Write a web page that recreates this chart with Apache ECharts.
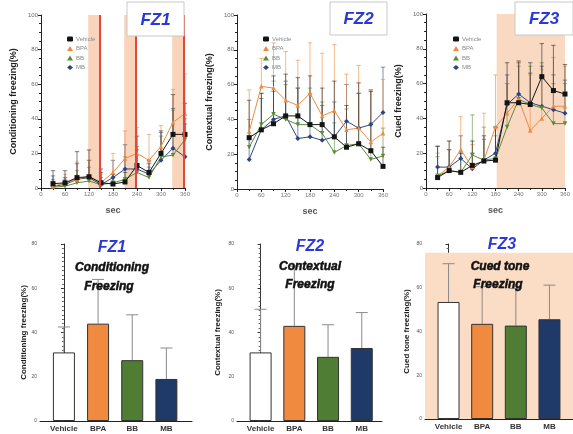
<!DOCTYPE html>
<html><head><meta charset="utf-8">
<script src="https://cdn.jsdelivr.net/npm/echarts@6/dist/echarts.min.js"></script>
<style>html,body{margin:0;padding:0;background:#fff}#c{width:573px;height:434px}</style>
</head><body><div id="c"></div>
<script>
// ---- data ----
const timeSec = [30,60,90,120,150,180,210,240,270,300,330,360];
const groups = ['Vehicle','BPA','BB','MB'];

const fz1Vehicle = [2.5,3,6,6.5,3,2.3,3.5,13,9,20,31,31];
const fz1VehicleErr = [7.5,7,15,15.5,8,5.7,5.5,17,7,13,23,18];
const fz1BPA = [1,3,5,7,3,9,17,20,16,24,38,43];
const fz1BPAErr = [3,5,10,9,5,11,16,15,15,12,19,23];
const fz1BB = [0.5,1,3,4,2,3,5,9,6,18,19,28];
const fz1BBErr = [4.5,4,7,8,4,5,13,15,6,12,26,12];
const fz1MB = [1,2,5,6,2,6,11,11,8,16,23,18];
const fz1MBErr = [6,4,9,10,7,10,14,11,6,16,23,19];

const fz2Vehicle = [29.5,34,37.5,42,42,37,37,30,24,26,22,13];
const fz2VehicleErr = [21.5,21,27.5,24,22,28,21,32,24,35,34,11];
const fz2BPA = [33,59,58,51,48,55,42,45,34,35,27,32];
const fz2BPAErr = [24,16,26,28,26,29,36,38,32,36,30,31];
const fz2BB = [24,37,43,40,37,37,32,21,25,26,17,19];
const fz2BBErr = [16,18,19,20,21,21,18,17,21,29,21,16];
const fz2MB = [17,34,40,42,29,30,28,30,39,35,37,44];
const fz2MBErr = [13,18,16,20,29,25,20,20,21,20,20,26];

const fz3Vehicle = [6,10,9,13,15.5,16,49,49,48,64,56,54];
const fz3VehicleErr = [18,17,11,14,14.5,19,23,24,24,19,26,17];
const fz3BPA = [7,12,22,12,16,35,43,51,33,40,47,47];
const fz3BPAErr = [13,15,19,13,27,30,17,21,32,28,28,23];
const fz3BB = [7,10,9,19,16,17,35,51,48,46,37,37];
const fz3BBErr = [11,12,11,23,19,13,25,19,22,26,23,23];
const fz3MB = [12,12,17,11,16,20,48,54,49,47,45,43];
const fz3MBErr = [12,10,13,9,12,15,17,18,17,23,20,19];

// shock / tone periods (sec)
const fz1Bands = [[118,148],[208,238],[328,360]];
const fz1Shocks = [147,236,358];
const fz3Band = [183,360];

const condMean = [31,44,27.5,19];
const condErr = [11.5,20,20.5,14];
const ctxMean = [31,43,29,33];
const ctxErr = [19.5,27,14.5,16];
const cuedMean = [53.5,43.5,42.7,45.6];
const cuedErr = [17.5,17,17,15.6];
const cuedBgTop = 76;

// ---- styles ----
const colors = {Vehicle:'#141414', BPA:'#ef8a3e', BB:'#5a8c3a', MB:'#2d4683'};
const barColors = ['#ffffff','#ef8a3f','#4e7d33','#1f3a68'];
const symbols = {Vehicle:['rect',5,0], BPA:['triangle',4.5,0], BB:['triangle',4.5,180], MB:['diamond',5,0]};
const FONT = 'Liberation Sans, Arial, sans-serif';

const chart = echarts.init(document.getElementById('c'), null, {renderer:'canvas'});

const topGrids = [
  {left:41, top:15, width:144, height:173},
  {left:237, top:15, width:146, height:174},
  {left:426, top:14, width:144, height:174}
];
const botGrids = [
  {left:40, top:244, width:152, height:177},
  {left:237, top:244, width:145, height:177},
  {left:425, top:244, width:148, height:175}
];
const botXMin = -0.7;
const botXMax = [3.75, 3.6, 3.7];

const topNames = ['Conditioning freezing(%)','Contextual freezing(%)','Cued freezing(%)'];
const botNames = ['Conditioning freezing(%)','Contextual freezing(%)','Cued tone freezing(%)'];
const botNameGap = [7, 15, 14];

const grid = [], xAxis = [], yAxis = [], series = [];

topGrids.forEach((g,i)=>{
  grid.push(Object.assign({containLabel:false}, g));
  xAxis.push({type:'value', gridIndex:i, min:0, max:360, interval:60,
    axisLine:{show:true, lineStyle:{color:'#222', width:1}},
    axisTick:{show:true, length:3, lineStyle:{color:'#222'}},
    minorTick:{show:true, splitNumber:2, length:2, lineStyle:{color:'#222'}},
    splitLine:{show:false},
    axisLabel:{fontSize:6, color:'#777', margin:3, fontFamily:FONT},
    name:'sec', nameLocation:'middle', nameGap:18,
    nameTextStyle:{fontSize:9, color:'#555', fontWeight:'bold', fontFamily:FONT}});
  yAxis.push({type:'value', gridIndex:i, min:0, max:100, interval:20,
    axisLine:{show:true, lineStyle:{color:'#222', width:1}},
    axisTick:{show:true, length:3, lineStyle:{color:'#222'}},
    minorTick:{show:true, splitNumber:4, length:2, lineStyle:{color:'#222'}},
    splitLine:{show:false},
    axisLabel:{fontSize:6, color:'#666', margin:3, fontFamily:FONT},
    name:topNames[i], nameLocation:'middle', nameGap:23,
    nameTextStyle:{fontSize:9, color:'#222', fontWeight:'bold', fontFamily:FONT}});
});
botGrids.forEach((g,i)=>{
  grid.push(Object.assign({containLabel:false}, g));
  xAxis.push({type:'value', gridIndex:3+i, min:botXMin, max:botXMax[i],
    axisLine:{show:true, lineStyle:{color:'#222', width:1}},
    axisTick:{show:false}, splitLine:{show:false},
    axisLabel:{customValues:[0,1,2,3], formatter:v=>groups[Math.round(v)], fontSize:8, fontWeight:'bold', color:'#333', margin:4, fontFamily:FONT}});
  yAxis.push({type:'value', gridIndex:3+i, min:0, max:80, interval:20,
    axisLine:{show:true, lineStyle:{color:'#333', width:1}},
    axisTick:{show:true, length:3, lineStyle:{color:'#333'}},
    minorTick:{show:true, splitNumber:10, length:2, lineStyle:{color:'#666'}},
    splitLine:{show:false},
    axisLabel:{fontSize:5, color:'#555', margin:3, fontFamily:FONT},
    name:botNames[i], nameLocation:'middle', nameGap:botNameGap[i],
    nameTextStyle:{fontSize:8, color:'#222', fontWeight:'bold', fontFamily:FONT}});
});

function errRenderer(color, cap, width){
  return function(params, api){
    const x = api.value(0), y = api.value(1), e = api.value(2);
    const p0 = api.coord([x,y]), p1 = api.coord([x,y+e]);
    return {type:'group', children:[
      {type:'line', shape:{x1:p0[0], y1:p0[1], x2:p1[0], y2:p1[1]}, style:{stroke:color, lineWidth:width}},
      {type:'line', shape:{x1:p1[0]-cap, y1:p1[1], x2:p1[0]+cap, y2:p1[1]}, style:{stroke:color, lineWidth:width}}
    ]};
  };
}

const topData = [
  {Vehicle:[fz1Vehicle,fz1VehicleErr], BPA:[fz1BPA,fz1BPAErr], BB:[fz1BB,fz1BBErr], MB:[fz1MB,fz1MBErr]},
  {Vehicle:[fz2Vehicle,fz2VehicleErr], BPA:[fz2BPA,fz2BPAErr], BB:[fz2BB,fz2BBErr], MB:[fz2MB,fz2MBErr]},
  {Vehicle:[fz3Vehicle,fz3VehicleErr], BPA:[fz3BPA,fz3BPAErr], BB:[fz3BB,fz3BBErr], MB:[fz3MB,fz3MBErr]}
];
const errColors = {Vehicle:'rgba(40,40,40,0.75)', BPA:'rgba(239,138,62,0.75)', BB:'rgba(90,140,58,0.75)', MB:'rgba(45,70,131,0.75)'};

topData.forEach((d,gi)=>{
  const bg = {type:'line', name:'bg'+gi, xAxisIndex:gi, yAxisIndex:gi, data:[], silent:true, z:1};
  if(gi===0){
    bg.markArea = {silent:true, itemStyle:{color:'#f9d4ba'}, data: fz1Bands.map(b=>[{xAxis:b[0]},{xAxis:b[1]}])};
    bg.markLine = {silent:true, symbol:'none', label:{show:false}, lineStyle:{color:'#e5453b', width:2, type:'solid'}, data: fz1Shocks.map(s=>({xAxis:s}))};
  }
  if(gi===2){
    bg.markArea = {silent:true, itemStyle:{color:'#f9d9c1'}, data:[[{xAxis:fz3Band[0]},{xAxis:fz3Band[1]}]]};
  }
  series.push(bg);
  ['BB','MB','BPA','Vehicle'].forEach(name=>{
    const [m,e] = d[name];
    series.push({type:'custom', name:name+' err', xAxisIndex:gi, yAxisIndex:gi, z:2,
      renderItem: errRenderer(errColors[name], 2.2, 0.8),
      data: timeSec.map((t,k)=>[t, m[k], e[k]]), encode:{x:0, y:1}});
  });
  ['MB','BB','BPA','Vehicle'].forEach(name=>{
    const [m] = d[name];
    const s = symbols[name];
    series.push({type:'line', name:name, xAxisIndex:gi, yAxisIndex:gi, z:3,
      data: timeSec.map((t,k)=>[t, m[k]]),
      symbol:s[0], symbolSize:s[1], symbolRotate:s[2], showSymbol:true,
      lineStyle:{color:colors[name], width:1}, itemStyle:{color:colors[name]}});
  });
});

const botData = [[condMean,condErr],[ctxMean,ctxErr],[cuedMean,cuedErr]];
botData.forEach((d,i)=>{
  const gi = 3+i;
  const bar = {type:'bar', name:'bars'+i, xAxisIndex:gi, yAxisIndex:gi, barWidth:22,
    data: d[0].map((v,k)=>({value:[k, v], itemStyle:{color:barColors[k], borderColor:'#333', borderWidth:1}})), z:2};
  if(i===2){
    bar.markArea = {silent:true, itemStyle:{color:'#fbdcc5'}, data:[[{xAxis:botXMin, yAxis:0},{xAxis:botXMax[i], yAxis:cuedBgTop}]]};
  }
  series.push({type:'custom', name:'bar err'+i, xAxisIndex:gi, yAxisIndex:gi, z:1,
    renderItem: errRenderer('#8a8a8a', 6, 1),
    data: d[0].map((v,k)=>[k, v, d[1][k]]), encode:{x:0, y:1}});
  series.push(bar);
});

const legendBase = (left, top)=>({
  orient:'vertical', left:left, top:top, itemWidth:6, itemHeight:5, itemGap:3.5,
  textStyle:{fontSize:6, color:'#8a8a8a', fontFamily:FONT, padding:[0,0,0,-2]},
  selectedMode:false,
  data: groups.map(n=>({name:n, icon:symbols[n][0]==='triangle'?'triangle':(n==='Vehicle'?'roundRect':'diamond'), itemStyle:{color:colors[n]}}))
});

const titleText = (x,y,text,size,color,stroke)=>({type:'text', x:x, y:y, silent:true, z:100,
  style:{text:text, x:0, y:0, align:'center', verticalAlign:'middle', fill:color,
    stroke: stroke ? color : null, lineWidth: stroke ? 0.5 : 0,
    font:'italic bold '+size+'px '+FONT}});
const boxTitle = (x,y,w,h,text)=>[
  {type:'rect', z:100, silent:true, shape:{x:x,y:y,width:w,height:h}, style:{fill:'#fff', stroke:'#c8c8c8', lineWidth:1}},
  {type:'text', z:101, silent:true, style:{text:text, x:x+w/2, y:y+h/2+1, align:'center', verticalAlign:'middle', fill:'#2a38d8', font:'italic bold 17px '+FONT}}
];

chart.setOption({
  animation:false,
  grid: grid, xAxis: xAxis, yAxis: yAxis, series: series,
  legend: [legendBase(62,31), legendBase(258,31), legendBase(448,31)],
  graphic: [].concat(
    boxTitle(127,2,57,34,'FZ1'),
    boxTitle(330,2,57,33,'FZ2'),
    boxTitle(515,2,58,33,'FZ3'),
    [
    titleText(112,248,'FZ1',16,'#2a38d8',false),
    titleText(112,268,'Conditioning',12,'#111',true),
    titleText(109,287,'Freezing',12,'#111',true),
    titleText(310,247,'FZ2',16,'#2a38d8',false),
    titleText(310,267,'Contextual',12,'#111',true),
    titleText(310,285,'Freezing',12,'#111',true),
    titleText(502,245,'FZ3',16,'#2a38d8',false),
    titleText(500,267,'Cued tone',12,'#111',true),
    titleText(498,285,'Freezing',12,'#111',true)
    ])
});
</script></body></html>
